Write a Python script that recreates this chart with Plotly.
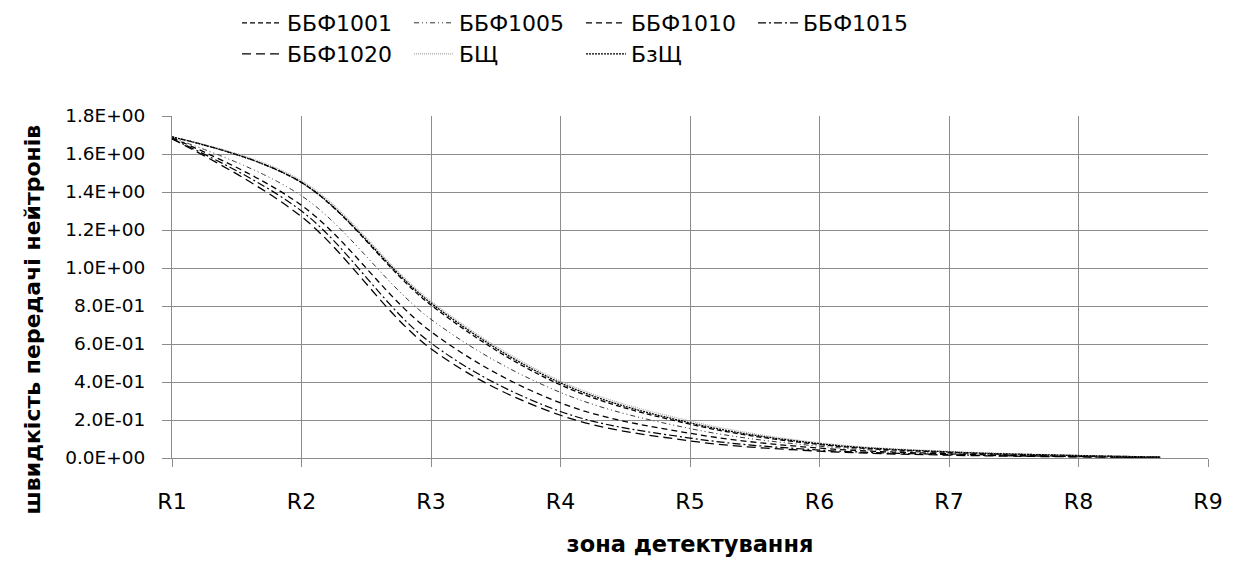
import plotly.graph_objects as go

# ---- data ----
x_pos = [1, 2, 3, 4, 5, 6, 7, 8, 8.63]
series_names = ["ББФ1001", "ББФ1005", "ББФ1010", "ББФ1015", "ББФ1020", "БЩ", "БзЩ"]
bbf1001 = [1.69, 1.45, 0.805, 0.385, 0.178, 0.071, 0.030, 0.012, 0.005]
bbf1005 = [1.685, 1.38, 0.73, 0.345, 0.155, 0.062, 0.026, 0.010, 0.004]
bbf1010 = [1.685, 1.33, 0.665, 0.29, 0.13, 0.052, 0.022, 0.009, 0.004]
bbf1015 = [1.68, 1.30, 0.605, 0.245, 0.105, 0.042, 0.018, 0.007, 0.003]
bbf1020 = [1.68, 1.27, 0.575, 0.225, 0.09, 0.036, 0.015, 0.006, 0.003]
bshch = [1.69, 1.46, 0.825, 0.405, 0.195, 0.080, 0.035, 0.014, 0.006]
bzshch = [1.69, 1.45, 0.815, 0.395, 0.185, 0.075, 0.032, 0.013, 0.005]

x_tick_vals = [1, 2, 3, 4, 5, 6, 7, 8, 9]
x_tick_text = ["R1", "R2", "R3", "R4", "R5", "R6", "R7", "R8", "R9"]
y_tick_vals = [0, 0.2, 0.4, 0.6, 0.8, 1.0, 1.2, 1.4, 1.6, 1.8]
y_tick_text = ["0.0E+00", "2.0E-01", "4.0E-01", "6.0E-01", "8.0E-01",
               "1.0E+00", "1.2E+00", "1.4E+00", "1.6E+00", "1.8E+00"]
x_title = "зона детектування"
y_title = "швидкість передачі нейтронів"

values = [bbf1001, bbf1005, bbf1010, bbf1015, bbf1020, bshch, bzshch]
styles = [
    dict(color="#000000", width=1.3, dash="5px,3px"),
    dict(color="#333333", width=1.0, dash="5px,3px,1px,3px,1px,3px"),
    dict(color="#000000", width=1.3, dash="6px,4px"),
    dict(color="#000000", width=1.2, dash="8px,3px,2px,3px"),
    dict(color="#000000", width=1.3, dash="9px,5px"),
    dict(color="#a8a8a8", width=1.2, dash="1px,1px"),
    dict(color="#000000", width=1.3, dash="2px,1px"),
]
legend_ids = ["legend", "legend", "legend", "legend", "legend2", "legend2", "legend2"]

fig = go.Figure()
for name, vals, st, lg in zip(series_names, values, styles, legend_ids):
    fig.add_trace(go.Scatter(
        x=x_pos, y=vals, name=name, mode="lines",
        line=dict(shape="spline", smoothing=1.0, **st),
        legend=lg,
    ))

# page body has an 8px default margin, so the figure is drawn 8px smaller
W, H = 1227, 558
ML, MR, MT, MB = 164, 23, 108, 108
PW, PH = W - ML - MR, H - MT - MB
grid = "#8c8c8c"
txt_font = "DejaVu Sans, Liberation Sans, Arial, sans-serif"
legend_common = dict(
    orientation="h", xref="container", yref="container",
    xanchor="left", yanchor="middle",
    font=dict(family=txt_font, size=22, color="#000000"),
    entrywidth=117, entrywidthmode="pixels",
    bgcolor="rgba(0,0,0,0)", tracegroupgap=0, itemwidth=40,
)
fig.update_layout(
    width=W, height=H,
    margin=dict(l=ML, r=MR, t=MT, b=MB),
    paper_bgcolor="white", plot_bgcolor="white",
    legend=dict(x=229 / W, y=1 - 15 / H, **legend_common),
    legend2=dict(x=229 / W, y=1 - 46 / H, **legend_common),
    xaxis=dict(
        range=[1, 9], tickmode="array", tickvals=x_tick_vals, ticktext=x_tick_text,
        showgrid=True, gridcolor=grid, gridwidth=1,
        showline=True, linecolor=grid, linewidth=1,
        ticks="outside", ticklen=8, tickcolor=grid,
        tickfont=dict(family=txt_font, size=22, color="#000000"),
        ticklabelstandoff=16,
        title=dict(text=x_title, standoff=22,
                   font=dict(family=txt_font, size=22.5, color="#000000", weight="bold")),
        zeroline=False,
    ),
    yaxis=dict(
        range=[0, 1.8], tickmode="array", tickvals=y_tick_vals, ticktext=y_tick_text,
        showgrid=True, gridcolor=grid, gridwidth=1,
        showline=True, linecolor=grid, linewidth=1,
        ticks="outside", ticklen=9, tickcolor=grid,
        tickfont=dict(family=txt_font, size=18.5, color="#000000"),
        ticklabelstandoff=13,
        zeroline=False,
    ),
    annotations=[dict(
        text=y_title, textangle=-90, showarrow=False,
        xref="paper", yref="paper",
        x=(23 - ML) / PW, y=(MT + PH - 312) / PH,
        xanchor="center", yanchor="middle",
        font=dict(family=txt_font, size=22, color="#000000", weight="bold"),
    )],
)

fig.write_html("out.html")
